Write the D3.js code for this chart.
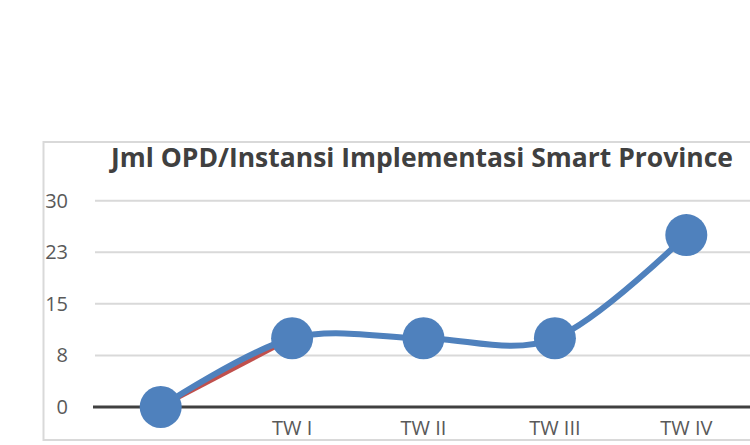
<!DOCTYPE html>
<html>
<head>
<meta charset="utf-8">
<script src="https://cdn.jsdelivr.net/npm/d3@7"></script>
<style>
body { margin: 0; background: #fff; overflow: hidden; }
</style>
</head>
<body>
<script>
var categories = ["", "TW I", "TW II", "TW III", "TW IV"];
var seriesBlue = [0, 10, 10, 10, 25];
var seriesRed = [0, 10];
var yTicks = [0, 7.5, 15, 22.5, 30];
var yTickLabels = ["0", "8", "15", "23", "30"];
var title = "Jml OPD/Instansi Implementasi Smart Province";

var blue = "#4f81bd";
var red = "#c0504d";
var gridcolor = "#d9d9d9";
var textcolor = "#595959";

var svg = d3.select("body")
	.append("svg")
	.attr("width", 750)
	.attr("height", 445)
	.style("font-family", "'Open Sans', sans-serif");

// chart area border (runs off the right edge like the original)
svg.append("rect")
	.attr("x", 43.5)
	.attr("y", 142)
	.attr("width", 760)
	.attr("height", 298)
	.style("fill", "#fff")
	.style("stroke", gridcolor)
	.style("stroke-width", 2);

svg.append("text")
	.attr("x", 111)
	.attr("y", 167)
	.attr("textLength", 622)
	.attr("lengthAdjust", "spacingAndGlyphs")
	.attr("font-size", "27px")
	.attr("font-weight", "bold")
	.attr("fill", "#404040")
	.text(title);

var x = d3.scaleBand()
	.domain(categories)
	.range([95, 752]);

var y = d3.scaleLinear()
	.domain([0, 30])
	.range([407, 200.7]);

// gridlines
svg.selectAll(".grid")
	.data(yTicks.slice(1))
	.enter().append("line")
	.attr("class", "grid")
	.attr("x1", 95)
	.attr("x2", 752)
	.attr("y1", d => y(d))
	.attr("y2", d => y(d))
	.style("stroke", gridcolor)
	.style("stroke-width", 2);

// x axis line
svg.append("line")
	.attr("x1", 93)
	.attr("x2", 752)
	.attr("y1", y(0))
	.attr("y2", y(0))
	.style("stroke", "#404040")
	.style("stroke-width", 3);

// y tick labels
svg.selectAll(".ylab")
	.data(yTicks)
	.enter().append("text")
	.attr("class", "ylab")
	.attr("x", 68)
	.attr("y", d => y(d))
	.attr("dy", "0.35em")
	.attr("text-anchor", "end")
	.attr("font-size", "20px")
	.attr("fill", textcolor)
	.text((d, i) => yTickLabels[i]);

// x labels
svg.selectAll(".xlab")
	.data(categories)
	.enter().append("text")
	.attr("class", "xlab")
	.attr("x", d => x(d) + x.bandwidth() / 2)
	.attr("y", 435)
	.attr("text-anchor", "middle")
	.attr("font-size", "20px")
	.attr("fill", textcolor)
	.text(d => d);

var cx = (d, i) => x(categories[i]) + x.bandwidth() / 2;

var redLine = d3.line()
	.x(cx)
	.y(d => y(d));

svg.append("path")
	.datum(seriesRed)
	.attr("d", redLine)
	.style("fill", "none")
	.style("stroke", red)
	.style("stroke-width", 4);

var blueLine = d3.line()
	.x(cx)
	.y(d => y(d))
	.curve(d3.curveCardinal.tension(0));

svg.append("path")
	.datum(seriesBlue)
	.attr("d", blueLine)
	.style("fill", "none")
	.style("stroke", blue)
	.style("stroke-width", 6)
	.style("stroke-linecap", "round");

svg.selectAll(".dot")
	.data(seriesBlue)
	.enter().append("circle")
	.attr("class", "dot")
	.attr("cx", cx)
	.attr("cy", d => y(d))
	.attr("r", 21)
	.style("fill", blue);
</script>
</body>
</html>
